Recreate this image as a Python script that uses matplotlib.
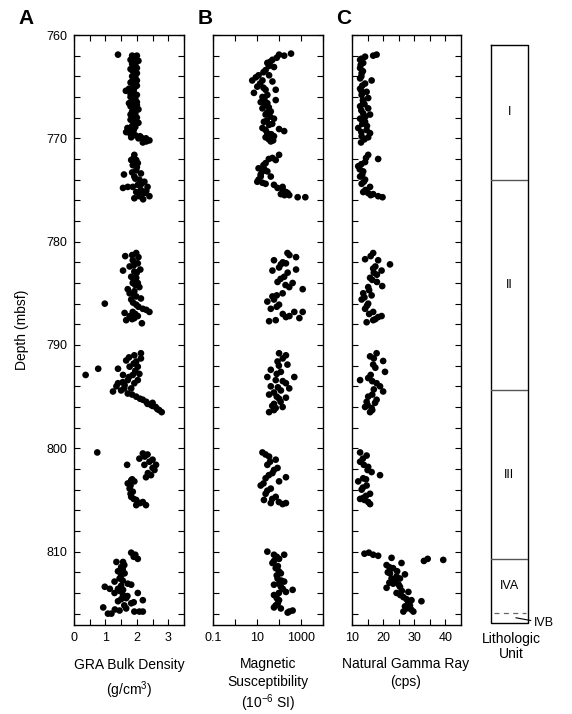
import numpy as np
import matplotlib.pyplot as plt
from matplotlib.ticker import FixedLocator, FixedFormatter, NullFormatter

plt.rcParams['font.family'] = ['Liberation Sans', 'DejaVu Sans']
plt.rcParams['mathtext.fontset'] = 'custom'
plt.rcParams['mathtext.rm'] = 'Liberation Sans'

# (depth mbsf, value)
gra = [(761.9, 1.40), (762.0, 1.85), (762.0, 2.0), (762.2, 1.9), (762.4, 1.8), (762.6, 1.95),
       (762.8, 1.85), (763.0, 1.9), (763.2, 2.0), (763.4, 1.85), (763.6, 1.9), (763.8, 1.95),
       (764.0, 1.85), (764.2, 1.9), (764.4, 2.0), (764.6, 1.8), (764.8, 1.9), (765.0, 1.95),
       (765.2, 1.75), (765.4, 1.65), (765.6, 1.9), (765.8, 2.0), (766.0, 1.8), (766.2, 1.95),
       (766.4, 1.85), (766.6, 1.75), (766.8, 2.0), (767.0, 1.9), (767.2, 2.05), (767.4, 1.85),
       (767.6, 1.95), (767.8, 1.9), (768.0, 2.0), (768.2, 1.8), (768.4, 1.9), (768.6, 1.95),
       (768.8, 1.85), (769.0, 1.7), (769.2, 1.9), (769.4, 1.66), (769.6, 1.8), (769.8, 2.1),
       (769.9, 1.82), (769.9, 2.13), (770.0, 2.29), (770.1, 2.2), (770.4, 2.19), (770.3, 2.3),
       (762.1, 1.95), (762.5, 2.05), (762.9, 1.95), (763.3, 1.8), (763.7, 2.0), (764.1, 1.95),
       (764.5, 1.85), (764.9, 2.0), (765.3, 1.9), (765.7, 1.8), (766.1, 1.9), (766.5, 2.0),
       (766.9, 1.8), (767.3, 1.95), (767.7, 1.8), (768.1, 1.9), (768.5, 2.05), (768.9, 1.95),
       (769.3, 1.85), (769.7, 1.95), (770.2, 2.4), (770.0, 2.05),
       (771.6, 1.92), (772.1, 1.98), (772.1, 1.82), (772.4, 2.03), (772.6, 1.87), (773.1, 1.98),
       (773.4, 2.13), (773.5, 1.59), (773.7, 1.92), (774.0, 2.08), (774.2, 2.24), (774.5, 2.03),
       (774.8, 1.56), (774.7, 1.71), (774.7, 1.87), (774.7, 2.34), (775.2, 1.98), (775.3, 2.24),
       (775.6, 2.40), (775.8, 1.92), (775.6, 2.08), (775.0, 2.13),
       (771.9, 1.9), (772.8, 2.0), (773.3, 1.85), (773.9, 1.95), (774.4, 2.15), (775.1, 2.3),
       (775.4, 2.1), (775.9, 2.2), (772.3, 1.95),
       (781.1, 1.98), (781.5, 2.05), (781.4, 1.63), (781.8, 1.87), (782.1, 2.03), (782.1, 1.95),
       (782.4, 1.77), (782.8, 1.56), (782.9, 1.92), (782.7, 2.11), (783.4, 1.82), (783.5, 1.98),
       (784.0, 1.87), (784.0, 2.03), (784.4, 2.08), (784.6, 1.71), (784.8, 1.92), (785.0, 1.77),
       (785.3, 1.98), (785.5, 2.13), (785.6, 1.82), (786.0, 0.98), (786.1, 1.98), (786.5, 2.19),
       (786.8, 2.40), (786.8, 1.87), (786.9, 1.61), (787.2, 1.77), (787.6, 1.66), (787.4, 1.92),
       (787.9, 2.16), (787.2, 2.03),
       (781.3, 1.85), (782.3, 1.9), (783.0, 2.0), (783.7, 1.9), (784.2, 1.95), (785.1, 1.9),
       (785.9, 1.88), (786.3, 2.05), (786.6, 2.3), (787.0, 1.95), (787.5, 1.85),
       (790.8, 2.13), (791.0, 1.92), (791.5, 1.66), (791.6, 1.98), (791.3, 2.13), (792.3, 1.40),
       (792.1, 1.77), (792.1, 2.03), (792.9, 1.56), (792.9, 1.87), (792.8, 2.08), (793.4, 1.71),
       (793.7, 1.40), (793.7, 1.92), (794.5, 1.24), (794.4, 1.50), (794.7, 1.71), (795.0, 1.98),
       (795.3, 2.19), (795.7, 2.34), (795.6, 2.50), (795.8, 2.45), (796.3, 2.71), (796.5, 2.79),
       (792.9, 0.37), (792.3, 0.77), (793.9, 1.61), (794.2, 1.82), (794.0, 1.35), (793.4, 2.03),
       (791.2, 1.75), (791.8, 1.9), (792.5, 1.95), (793.1, 1.75), (793.6, 1.55), (794.2, 1.6),
       (794.8, 1.85), (795.2, 2.1), (795.5, 2.3), (796.0, 2.6), (796.2, 2.65), (795.9, 2.5),
       (800.4, 0.74), (800.5, 2.19), (800.6, 2.34), (801.0, 2.08), (801.1, 2.50), (801.6, 2.24),
       (801.6, 1.69), (801.6, 2.61), (802.1, 2.56), (802.6, 2.45), (802.8, 2.29), (803.1, 1.82),
       (803.4, 1.71), (803.2, 1.92), (803.9, 1.77), (804.2, 1.87), (804.7, 1.82), (805.0, 1.98),
       (805.2, 2.19), (805.5, 2.29), (805.5, 1.98),
       (800.8, 2.25), (801.3, 2.4), (801.9, 2.5), (802.4, 2.35), (803.0, 1.85), (803.6, 1.8),
       (804.4, 1.8), (804.9, 1.9), (805.3, 2.1),
       (810.1, 1.82), (810.3, 1.95), (810.7, 2.03), (811.0, 1.35), (811.0, 1.56), (811.5, 1.50),
       (811.9, 1.40), (812.1, 1.61), (812.6, 1.45), (812.9, 1.29), (813.1, 1.71), (813.4, 0.98),
       (813.6, 1.14), (813.6, 1.40), (813.2, 1.82), (814.0, 1.29), (814.2, 1.56), (814.0, 2.03),
       (814.5, 1.66), (814.7, 2.19), (814.8, 1.40), (815.0, 1.82), (815.4, 0.93), (815.5, 1.66),
       (816.0, 1.08), (816.0, 1.19), (815.7, 1.45), (815.8, 1.92), (815.8, 2.08), (815.8, 2.19),
       (813.7, 1.56),
       (810.5, 1.9), (811.3, 1.6), (811.7, 1.55), (812.3, 1.5), (812.8, 1.55), (813.3, 1.5),
       (813.8, 1.45), (814.3, 1.7), (814.6, 1.5), (815.2, 1.6), (815.6, 1.3), (814.9, 1.9)]

mag_sus = [(761.8, 355), (762.0, 174), (761.9, 102), (762.4, 51), (762.7, 30), (763.1, 60),
           (763.4, 25), (763.9, 12), (763.9, 36), (764.4, 6.2), (764.4, 18), (764.5, 51),
           (765.0, 10.5), (765.3, 25), (765.3, 72), (765.6, 7.4), (766.0, 18), (766.3, 72),
           (766.5, 15), (766.6, 30), (767.1, 18), (767.4, 43), (767.7, 25), (768.1, 60),
           (768.4, 21), (768.7, 36), (769.0, 18), (769.1, 102), (769.3, 174), (769.5, 30),
           (769.8, 60), (769.9, 25), (770.3, 43),
           (762.2, 80), (762.6, 40), (763.0, 35), (763.6, 20), (764.1, 9), (764.7, 14),
           (765.1, 20), (765.8, 30), (766.2, 22), (766.8, 25), (767.0, 35), (767.5, 30),
           (767.9, 40), (768.3, 28), (768.6, 50), (769.2, 25), (769.6, 45), (770.1, 35),
           (770.2, 55),
           (771.6, 102), (771.9, 51), (772.1, 72), (772.4, 25), (772.9, 12), (773.2, 30),
           (773.2, 18), (773.7, 15), (773.7, 43), (774.2, 10.5), (774.4, 25), (774.5, 60),
           (774.8, 87), (774.7, 148), (775.2, 209), (775.4, 123), (775.5, 295), (775.7, 710),
           (775.7, 1580),
           (772.0, 35), (772.6, 20), (773.0, 22), (773.5, 15), (774.0, 12), (774.3, 18),
           (775.0, 150), (775.3, 250), (775.5, 180),
           (781.1, 245), (781.5, 600), (781.8, 60), (782.1, 209), (782.2, 123), (782.5, 102),
           (782.8, 51), (782.7, 600), (783.4, 174), (783.9, 87), (784.0, 420), (784.4, 295),
           (784.6, 1200), (785.0, 148), (785.3, 51), (785.8, 30), (786.1, 102), (786.5, 43),
           (786.8, 500), (786.8, 1200), (787.3, 209), (787.7, 36), (787.6, 72), (787.4, 850),
           (781.3, 300), (782.0, 150), (783.0, 250), (783.6, 120), (784.2, 200), (785.2, 80),
           (785.6, 60), (786.3, 80), (787.0, 150), (787.2, 300),
           (790.8, 102), (791.0, 209), (791.6, 87), (791.9, 245), (792.4, 43), (792.6, 123),
           (793.1, 500), (793.1, 30), (793.4, 72), (793.7, 209), (794.0, 43), (794.4, 123),
           (794.2, 295), (794.8, 36), (795.2, 102), (795.1, 209), (795.7, 60), (796.0, 148),
           (796.5, 36), (796.1, 72),
           (791.3, 150), (792.0, 100), (792.8, 80), (793.5, 150), (794.1, 90), (794.6, 60),
           (795.0, 80), (795.5, 120), (795.9, 50), (796.3, 60),
           (800.4, 18), (800.8, 36), (801.1, 72), (801.6, 30), (801.9, 87), (802.4, 51),
           (802.9, 25), (802.8, 209), (803.2, 102), (803.6, 15), (803.9, 43), (804.4, 25),
           (804.7, 72), (805.0, 21), (805.3, 43), (805.4, 148), (805.3, 209),
           (800.6, 25), (801.3, 40), (802.1, 60), (802.6, 35), (803.4, 20), (804.1, 30),
           (804.9, 50), (805.2, 100),
           (810.0, 30), (810.3, 60), (810.3, 174), (810.7, 102), (811.1, 51), (811.6, 72),
           (812.1, 123), (812.6, 87), (812.9, 174), (813.4, 123), (813.7, 420), (813.9, 209),
           (814.2, 60), (814.7, 102), (815.2, 72), (815.5, 123), (815.8, 295), (815.7, 420),
           (813.2, 60),
           (810.5, 80), (810.9, 60), (811.4, 90), (811.9, 100), (812.3, 80), (812.8, 130),
           (813.1, 100), (813.6, 150), (814.0, 100), (814.5, 80), (815.0, 90), (815.4, 60),
           (815.9, 250)]

ngr = [(761.9, 17.9), (762.0, 16.8), (762.1, 14.2), (762.4, 12.6), (762.7, 13.6), (763.2, 12.6),
       (763.7, 13.1), (764.2, 12.6), (764.4, 16.3), (764.7, 14.2), (765.2, 12.6), (765.5, 14.7),
       (765.8, 13.1), (766.1, 15.2), (766.5, 13.6), (766.9, 12.6), (767.1, 15.2), (767.6, 13.6),
       (767.7, 15.8), (768.1, 12.6), (768.4, 14.2), (769.0, 12.0), (769.2, 14.7), (769.5, 15.8),
       (769.8, 13.1), (769.9, 15.2), (770.4, 12.9),
       (762.3, 13.0), (762.9, 12.8), (763.5, 13.5), (764.0, 13.0), (764.9, 13.3), (765.4, 13.0),
       (766.3, 13.5), (766.7, 14.0), (767.3, 13.0), (767.9, 14.3), (768.6, 13.3), (768.8, 14.8),
       (769.4, 13.0), (770.1, 14.0),
       (771.6, 15.2), (772.0, 18.4), (772.3, 14.2), (772.7, 12.0), (773.2, 13.6), (773.7, 12.6),
       (774.0, 14.2), (774.4, 13.1), (774.7, 15.8), (775.2, 13.6), (775.4, 16.8), (775.3, 15.2),
       (775.6, 18.4), (775.7, 19.8),
       (771.9, 14.5), (772.5, 13.0), (773.0, 12.5), (773.5, 13.3), (774.2, 13.8), (775.0, 14.3),
       (775.5, 16.0),
       (781.1, 16.8), (781.7, 14.2), (781.8, 18.4), (782.2, 22.2), (782.6, 16.8), (782.8, 19.5),
       (783.5, 15.8), (783.9, 18.0), (784.3, 19.7), (785.0, 13.6), (785.2, 16.3), (785.6, 13.1),
       (786.0, 15.2), (786.5, 14.2), (786.8, 16.8), (787.3, 18.4), (787.2, 19.5), (787.8, 14.7),
       (787.6, 16.8), (784.4, 15.2), (783.2, 18.0),
       (781.4, 16.0), (782.4, 17.5), (783.0, 17.0), (783.7, 16.5), (784.7, 15.5), (785.4, 14.0),
       (786.2, 14.8), (787.0, 15.5), (787.5, 17.5),
       (790.8, 17.9), (791.1, 15.8), (791.55, 20.0), (791.9, 16.8), (792.6, 20.6), (793.4, 12.6),
       (793.2, 15.2), (793.7, 17.9), (794.0, 19.0), (794.5, 20.0), (795.0, 15.2), (795.3, 17.9),
       (796.0, 14.2), (796.1, 16.3), (796.5, 15.8), (795.6, 17.4), (795.5, 14.7),
       (791.3, 17.0), (792.2, 17.5), (792.9, 16.0), (793.5, 16.5), (794.3, 17.0), (794.8, 16.5),
       (795.8, 15.0), (796.3, 16.5),
       (800.4, 12.6), (800.7, 14.7), (801.3, 12.6), (801.8, 15.2), (802.3, 16.3), (802.6, 19.0),
       (802.9, 13.6), (803.2, 12.0), (803.6, 14.7), (804.0, 13.1), (804.4, 15.8), (804.8, 13.6),
       (805.2, 15.2), (804.9, 12.6), (805.4, 15.8),
       (801.0, 13.5), (801.6, 13.8), (802.1, 15.0), (803.0, 14.5), (803.8, 13.5), (804.6, 14.5),
       (805.0, 14.0),
       (810.2, 14.0), (810.1, 15.4), (810.3, 16.8), (810.4, 18.4), (810.6, 22.7), (810.9, 33.1),
       (810.7, 34.3), (810.8, 39.3), (811.3, 21.1), (811.6, 23.2), (811.1, 25.9), (812.1, 22.2),
       (812.4, 24.3), (812.2, 27.0), (813.5, 21.1), (813.1, 23.2), (813.4, 25.4), (814.0, 24.3),
       (813.9, 28.1), (814.4, 26.5), (814.7, 29.1), (814.8, 32.3), (815.3, 27.0), (815.2, 28.6),
       (815.8, 26.5), (815.8, 29.7), (812.6, 22.7), (812.6, 25.4),
       (811.5, 22.0), (811.9, 24.5), (812.8, 24.0), (813.2, 25.0), (813.8, 26.0), (814.2, 25.5),
       (814.6, 27.5), (815.0, 28.0), (815.5, 27.5), (815.6, 29.0), (812.0, 21.5), (813.0, 22.0)]

unit_names = ['I', 'II', 'III', 'IVA']
unit_tops = [761.0, 774.0, 794.4, 810.75]
ivb_top = 815.9
hole_bottom = 816.95

W, H = 572, 714
fig = plt.figure(figsize=(W / 100, H / 100), dpi=100)


def box(l, r, t, b):
    return [l / W, 1 - b / H, (r - l) / W, (b - t) / H]


axA = fig.add_axes(box(74, 184, 35, 625))
axB = fig.add_axes(box(212.7, 323, 35, 625))
axC = fig.add_axes(box(352, 461, 35, 625))
axL = fig.add_axes(box(490.7, 527.7, 35, 625))

for ax, data in [(axA, gra), (axB, mag_sus), (axC, ngr)]:
    d, v = zip(*data)
    ax.scatter(v, d, s=23, c='k', edgecolors='none', zorder=3)
    ax.set_ylim(817.1, 760)
    ax.yaxis.set_major_locator(FixedLocator(np.arange(760, 817, 10)))
    ax.yaxis.set_minor_locator(FixedLocator(np.arange(760, 817, 2)))
    ax.tick_params(which='both', direction='in', length=4, width=0.8,
                   top=True, right=True, labelsize=9, pad=5)
    for s in ax.spines.values():
        s.set_linewidth(1)
    if ax is not axA:
        ax.yaxis.set_major_formatter(NullFormatter())

axA.set_xlim(0, 3.5)
axA.xaxis.set_major_locator(FixedLocator([0, 1, 2, 3]))
axA.xaxis.set_minor_locator(FixedLocator([0.5, 1.5, 2.5, 3.5]))

axB.set_xscale('log')
axB.set_xlim(0.1, 1e4)
axB.xaxis.set_major_locator(FixedLocator([0.1, 1, 10, 100, 1000, 10000]))
axB.xaxis.set_major_formatter(FixedFormatter(['0.1', '', '10', '', '1000', '']))
axB.xaxis.set_minor_locator(FixedLocator([]))

axC.set_xlim(10, 45)
axC.xaxis.set_major_locator(FixedLocator([10, 20, 30, 40]))
axC.xaxis.set_minor_locator(FixedLocator([15, 25, 35]))

# lithologic column
axL.set_xlim(0, 1)
axL.set_ylim(817.1, 760)
axL.axis('off')
axL.plot([0, 1, 1, 0, 0], [unit_tops[0], unit_tops[0], hole_bottom, hole_bottom, unit_tops[0]],
         color='k', lw=1, clip_on=False)
for t in unit_tops[1:]:
    axL.plot([0, 1], [t, t], color='#555555', lw=1)
axL.plot([0.08, 0.95], [ivb_top, ivb_top], color='#666666', lw=0.9, ls=(0, (4, 3.5)))
bounds = unit_tops + [ivb_top]
for name, t, b in zip(unit_names, bounds[:-1], bounds[1:]):
    axL.text(0.5, (t + b) / 2, name, ha='center', va='center', fontsize=9)
axL.annotate('IVB', xy=(0.68, 816.4), xytext=(1.16, 816.9), fontsize=9,
             ha='left', va='center', annotation_clip=False,
             arrowprops=dict(arrowstyle='-', color='k', lw=0.8, shrinkA=0, shrinkB=0))

# labels
for x, lab in [(26, 'A'), (205, 'B'), (344, 'C')]:
    fig.text(x / W, 1 - 19 / H, lab, ha='center', va='center', fontsize=15, fontweight='bold')

fig.text(22 / W, 1 - 330 / H, 'Depth (mbsf)', rotation=90, ha='center', va='center', fontsize=10)
fig.text(129 / W, 1 - 665 / H, 'GRA Bulk Density', ha='center', va='center', fontsize=10)
fig.text(129 / W, 1 - 690 / H, r'(g/cm$^3$)', ha='center', va='center', fontsize=10)
fig.text(268 / W, 1 - 664 / H, 'Magnetic', ha='center', va='center', fontsize=10)
fig.text(268 / W, 1 - 682 / H, 'Susceptibility', ha='center', va='center', fontsize=10)
fig.text(268 / W, 1 - 703 / H, r'(10$^{-6}$ SI)', ha='center', va='center', fontsize=10)
fig.text(406 / W, 1 - 664 / H, 'Natural Gamma Ray', ha='center', va='center', fontsize=10)
fig.text(406 / W, 1 - 682 / H, '(cps)', ha='center', va='center', fontsize=10)
fig.text(511 / W, 1 - 639 / H, 'Lithologic', ha='center', va='center', fontsize=10)
fig.text(511 / W, 1 - 654 / H, 'Unit', ha='center', va='center', fontsize=10)

fig.savefig('out.png', dpi=100)
